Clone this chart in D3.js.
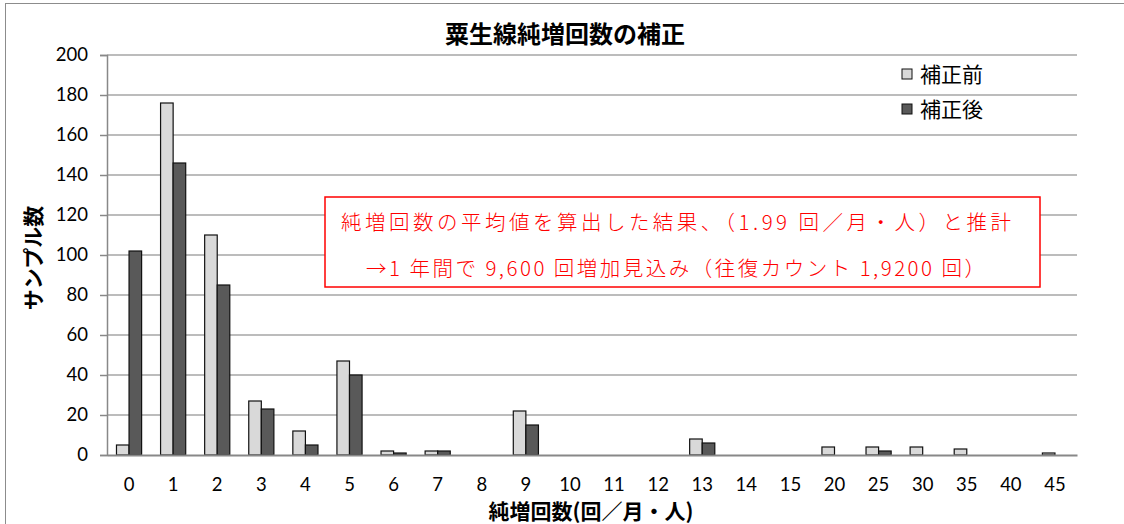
<!DOCTYPE html>
<html><head><meta charset="utf-8">
<script src="https://cdn.jsdelivr.net/npm/d3@7"></script>
<style>body{margin:0;background:#fff}</style>
</head><body>
<svg id="c" width="1124" height="524"></svg>
<script>
const categories = ["0","1","2","3","4","5","6","7","8","9","10","11","12","13","14","15","20","25","30","35","40","45"];
const before = [5,176,110,27,12,47,2,2,0,22,0,0,0,8,0,0,4,4,4,3,0,1];
const after  = [102,146,85,23,5,40,1,2,0,15,0,0,0,6,0,0,0,2,0,0,0,0];
const seriesNames = ["補正前","補正後"];
const yTicks = [0,20,40,60,80,100,120,140,160,180,200];
const title = "粟生線純増回数の補正";
const xTitle = "純増回数(回／月・人)";
const yTitle = "サンプル数";
const note = ["純増回数の平均値を算出した結果、（1.99 回／月・人）と推計","→1 年間で 9,600 回増加見込み（往復カウント 1,9200 回）"];

const svg = d3.select("#c");
const m={l:107,r:1077,t:55,b:455};
const num = "Lato, 'Open Sans', sans-serif";
const cjk = "'Noto Sans CJK JP', sans-serif";

svg.append("rect").attr("x",5.5).attr("y",3.5).attr("width",1130).attr("height",540).attr("fill","#fff").attr("stroke","#8c8c8c").attr("stroke-width",1);

const x = d3.scaleBand().domain(categories).range([m.l,m.r]).paddingInner(0.43).paddingOuter(0.215);
const x1 = d3.scaleBand().domain([0,1]).range([0,x.bandwidth()]);
const y = d3.scaleLinear().domain([0,200]).range([m.b,m.t]);

// gridlines
svg.append("g").selectAll("line").data(yTicks.filter(d=>d>0)).join("line")
  .attr("x1",m.l).attr("x2",m.r).attr("y1",d=>y(d)).attr("y2",d=>y(d))
  .attr("stroke","#a6a6a6").attr("stroke-width",1.5);

// y axis
const ya = svg.append("g").attr("transform",`translate(${m.l},0)`)
  .call(d3.axisLeft(y).tickValues(yTicks).tickSize(7).tickPadding(12));
ya.select(".domain").attr("stroke","#888").attr("stroke-width",1.5);
ya.selectAll(".tick line").attr("stroke","#888").attr("stroke-width",1.5);
ya.selectAll("text").attr("font-family",num).attr("font-size",18.5).attr("fill","#000");

// bars
const data = categories.map((c,i)=>({c,v:[before[i],after[i]]}));
const fills=["#d9d9d9","#595959"];
const g = svg.append("g");
data.forEach(d=>{
  d.v.forEach((v,k)=>{
    g.append("rect").attr("x",x(d.c)+x1(k)).attr("width",x1.bandwidth())
      .attr("y",y(v)).attr("height",Math.max(0,y(0)-y(v)))
      .attr("fill",fills[k]).attr("stroke","#111").attr("stroke-width",1.2);
  });
});

// x axis
const xa = svg.append("g").attr("transform",`translate(0,${m.b})`)
  .call(d3.axisBottom(x).tickSize(0).tickPadding(23));
xa.select(".domain").attr("stroke","#888").attr("stroke-width",2);
xa.selectAll("text").attr("font-family",num).attr("font-size",18.5).attr("fill","#000");

// titles
svg.append("text").attr("x",565).attr("y",43).attr("text-anchor","middle")
  .attr("font-family",cjk).attr("font-weight","bold").attr("font-size",24).text(title);
svg.append("text").attr("x",591).attr("y",519).attr("text-anchor","middle")
  .attr("font-family",cjk).attr("font-weight","bold").attr("font-size",21).text(xTitle);
svg.append("text").attr("transform","translate(41,258) rotate(-90)").attr("text-anchor","middle")
  .attr("font-family",cjk).attr("font-weight","bold").attr("font-size",21).text(yTitle);

// legend
seriesNames.forEach((n,k)=>{
  const ly = 74+k*35;
  svg.append("rect").attr("x",902).attr("y",ly-5).attr("width",10).attr("height",10)
    .attr("fill",fills[k]).attr("stroke","#111").attr("stroke-width",1);
  svg.append("text").attr("x",920).attr("y",ly+8).attr("font-family",cjk).attr("font-size",21).text(n);
});

// note box
svg.append("rect").attr("x",325).attr("y",197).attr("width",715).attr("height",90)
  .attr("fill","#fff").attr("stroke","#ff0000").attr("stroke-width",1.5);
const noteSpan = [[341,1011],[366,985]];
note.forEach((t,i)=>{
  svg.append("text").attr("x",noteSpan[i][0]).attr("y",230+i*46)
    .attr("textLength",noteSpan[i][1]-noteSpan[i][0]).attr("lengthAdjust","spacing")
    .attr("font-family",cjk).attr("font-weight",300).attr("font-size",20.5).attr("fill","#ff0000").text(t);
});
</script>
</body></html>
